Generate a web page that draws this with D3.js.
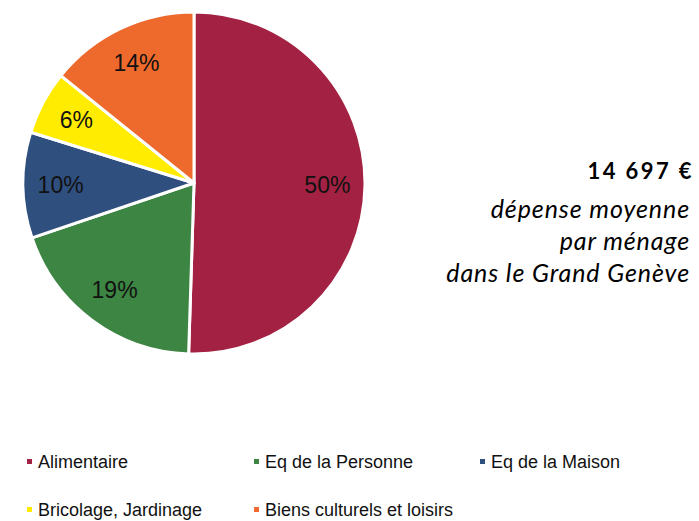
<!DOCTYPE html>
<html>
<head>
<meta charset="utf-8">
<script src="https://cdn.jsdelivr.net/npm/d3@7"></script>
<style>
  body { margin: 0; background: #fff; }
  svg { display: block; }
</style>
</head>
<body>
<svg id="chart"></svg>
<script>
var categories = ['Alimentaire', 'Eq de la Personne', 'Eq de la Maison', 'Bricolage, Jardinage', 'Biens culturels et loisirs'],
    shares = [50.5, 19.3, 10.0, 6.0, 14.2],
    labels = ['50%', '19%', '10%', '6%', '14%'],
    colors = ['#a32142', '#3d8543', '#2f4f7e', '#ffec00', '#ee692c'],
    note_title = '14 697 €',
    note_lines = ['dépense moyenne', 'par ménage', 'dans le Grand Genève'];

var width = 699,
    height = 521,
    cx = 194,
    cy = 183,
    radius = 171;

var svg = d3.select('#chart').attr('width', width).attr('height', height);

var data = categories.map(function(c, i) {
  return { name: c, value: shares[i], label: labels[i], color: colors[i] };
});

var pie = d3.pie().sort(null).value(function(d) { return d.value; }),
    arc = d3.arc().innerRadius(0).outerRadius(radius),
    label_arc = d3.arc().innerRadius(radius * 0.78).outerRadius(radius * 0.78);

var grp = svg.append('g').attr('transform', 'translate(' + cx + ',' + cy + ')');

var slices = grp.selectAll('g.slice').data(pie(data)).enter()
  .append('g').attr('class', 'slice');

slices.append('path')
  .attr('d', arc)
  .attr('fill', function(d) { return d.data.color; })
  .attr('stroke', '#fff')
  .attr('stroke-width', 3)
  .attr('stroke-linejoin', 'round');

slices.append('text')
  .attr('transform', function(d) {
    var c = label_arc.centroid(d);
    return 'translate(' + c[0] + ',' + c[1] + ')';
  })
  .attr('text-anchor', 'middle')
  .attr('dy', '0.36em')
  .style('font-family', '"Liberation Sans", Arial, sans-serif')
  .style('font-size', '23px')
  .attr('fill', '#111')
  .text(function(d) { return d.data.label; });

// note on the right
var note = svg.append('g').attr('text-anchor', 'end')
  .style('font-family', 'Lato, "Noto Sans", sans-serif')
  .attr('fill', '#000');

note.append('text')
  .attr('x', 694).attr('y', 179)
  .style('font-size', '22px')
  .style('font-weight', 'bold')
  .style('letter-spacing', '2.4px')
  .text(note_title);

note.selectAll('text.line').data(note_lines).enter()
  .append('text').attr('class', 'line')
  .attr('x', 690)
  .attr('y', function(d, i) { return 218 + i * 32; })
  .style('font-size', '25px')
  .style('font-style', 'italic')
  .style('letter-spacing', '0.9px')
  .text(function(d) { return d; });

// legend
var col_x = [27, 254, 480],
    row_y = [468, 516];

var legend = svg.selectAll('g.legend').data(data).enter()
  .append('g').attr('class', 'legend')
  .attr('transform', function(d, i) {
    return 'translate(' + col_x[i % 3] + ',' + row_y[Math.floor(i / 3)] + ')';
  });

legend.append('rect')
  .attr('x', 0).attr('y', -9)
  .attr('width', 5).attr('height', 5)
  .attr('fill', function(d) { return d.color; });

legend.append('text')
  .attr('x', 11)
  .style('font-family', '"Liberation Sans", Arial, sans-serif')
  .style('font-size', '18px')
  .attr('fill', '#111')
  .text(function(d) { return d.name; });
</script>
</body>
</html>
